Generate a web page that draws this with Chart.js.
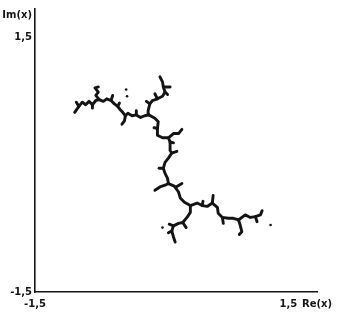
<!DOCTYPE html>
<html>
<head>
<meta charset="utf-8">
<script src="https://cdn.jsdelivr.net/npm/chart.js@4.4.1/dist/chart.umd.min.js"></script>
<style>
  html, body { margin: 0; padding: 0; background: #fff; }
  canvas { display: block; }
</style>
</head>
<body>
<canvas id="juliaChart" width="340" height="322"></canvas>
<script>
// Axis ticks and labels
const xTickValues = [-1.5, 1.5, 1.84];
const xTickLabels = ['-1,5', '1,5', 'Re(x)'];
const yTickValues = [-1.5, 1.5, 1.76];
const yTickLabels = ['-1,5', '1,5', 'Im(x)'];

// Branches of the dendrite, [Re, Im]
const armWest = [[-1.03,0.62],[-0.98,0.69],[-0.94,0.74],[-0.90,0.71],[-0.86,0.75],[-0.82,0.71],[-0.78,0.76],[-0.74,0.77],[-0.69,0.75],[-0.65,0.78],[-0.60,0.76],[-0.56,0.72],[-0.52,0.69],[-0.49,0.65],[-0.46,0.62],[-0.43,0.58],[-0.40,0.61],[-0.35,0.58],[-0.30,0.59],[-0.25,0.56],[-0.20,0.58],[-0.15,0.59]];
const armWestTwigs = [
    [[-0.74,0.77],[-0.78,0.82],[-0.75,0.86],[-0.79,0.91],[-0.75,0.92]],
    [[-0.60,0.76],[-0.58,0.82]],
    [[-0.43,0.58],[-0.44,0.52],[-0.47,0.48]],
    [[-0.98,0.69],[-1.01,0.74]],
    [[-0.82,0.71],[-0.82,0.67]],
    [[-0.30,0.59],[-0.30,0.64]],
    [[-0.52,0.69],[-0.50,0.73]]
];
const armNorth = [[-0.15,0.59],[-0.16,0.64],[-0.14,0.72],[-0.11,0.76],[-0.05,0.78],[0.01,0.81],[0.04,0.86],[0.02,0.92],[0.01,0.98],[-0.02,1.04]];
const armNorthTwigs = [
    [[0.02,0.92],[0.10,0.92]],
    [[-0.14,0.72],[-0.18,0.75]],
    [[-0.05,0.78],[-0.08,0.84]],
    [[0.04,0.86],[0.07,0.83]]
];
const stemMiddle = [[-0.15,0.59],[-0.08,0.55],[-0.04,0.51],[-0.05,0.43],[-0.05,0.35],[0.01,0.32],[0.08,0.32],[0.10,0.27],[0.10,0.17],[0.12,0.14],[0.08,0.08],[0.04,0.03],[0.02,-0.04],[0.04,-0.10],[0.07,-0.16],[0.08,-0.22]];
const stemMiddleTwigs = [
    [[0.08,0.32],[0.14,0.37],[0.20,0.37],[0.24,0.42]],
    [[0.12,0.14],[0.18,0.16]],
    [[0.02,-0.04],[-0.03,-0.04]],
    [[-0.05,0.43],[-0.09,0.44]],
    [[0.10,0.27],[0.14,0.26]]
];
const armSouthWest = [[0.08,-0.22],[0.04,-0.24],[-0.02,-0.26],[-0.08,-0.30]];
const stemLower = [[0.08,-0.22],[0.15,-0.25],[0.20,-0.32],[0.22,-0.39],[0.27,-0.44],[0.34,-0.48]];
const stemLowerTwigs = [
    [[0.17,-0.26],[0.24,-0.22]]
];
const armSouth = [[0.34,-0.48],[0.34,-0.56],[0.30,-0.62],[0.25,-0.68],[0.20,-0.69],[0.14,-0.72],[0.12,-0.78],[0.14,-0.85],[0.16,-0.91]];
const armSouthTwigs = [
    [[0.25,-0.68],[0.29,-0.74]],
    [[0.14,-0.72],[0.09,-0.70]],
    [[0.12,-0.78],[0.08,-0.80]]
];
const armEast = [[0.34,-0.48],[0.42,-0.45],[0.48,-0.48],[0.54,-0.49],[0.60,-0.45],[0.66,-0.50],[0.67,-0.57],[0.72,-0.62],[0.79,-0.63],[0.85,-0.63],[0.91,-0.65]];
const armEastTwigs = [
    [[0.60,-0.45],[0.61,-0.36]],
    [[0.72,-0.62],[0.73,-0.69]],
    [[0.48,-0.48],[0.49,-0.43]]
];
const tipSouthEast = [[0.91,-0.65],[0.93,-0.71],[0.95,-0.79],[0.92,-0.82]];
const tipEast = [[0.91,-0.65],[0.99,-0.59],[1.05,-0.62],[1.11,-0.61],[1.17,-0.59],[1.19,-0.54]];
const tipEastTwigs = [
    [[1.11,-0.61],[1.13,-0.67]]
];
const strayDots = [[-0.42,0.89],[-0.41,0.81],[1.29,-0.71],[0.01,-0.74]];

const branches = [
    armWest, ...armWestTwigs,
    armNorth, ...armNorthTwigs,
    stemMiddle, ...stemMiddleTwigs,
    armSouthWest,
    stemLower, ...stemLowerTwigs,
    armSouth, ...armSouthTwigs,
    armEast, ...armEastTwigs,
    tipSouthEast,
    tipEast, ...tipEastTwigs
];

const ink = '#141414';
const toPoints = arr => arr.map(p => ({ x: p[0], y: p[1] }));

const datasets = branches.map(b => ({
    data: toPoints(b),
    showLine: true,
    borderColor: ink,
    borderWidth: 2.9,
    borderJoinStyle: 'round',
    borderCapStyle: 'round',
    pointRadius: 0,
    tension: 0
}));
datasets.push({
    data: toPoints(strayDots),
    showLine: false,
    pointRadius: 1.3,
    pointBorderWidth: 0,
    backgroundColor: ink
});

const tickFont = { family: 'DejaVu Sans', size: 10, weight: 'bold' };

new Chart(document.getElementById('juliaChart'), {
    type: 'scatter',
    data: { datasets: datasets },
    options: {
        responsive: false,
        animation: false,
        layout: { autoPadding: false, padding: { top: 8, right: 23, left: 0, bottom: 0 } },
        plugins: { legend: { display: false }, tooltip: { enabled: false } },
        scales: {
            x: {
                type: 'linear',
                min: -1.5,
                max: 1.84,
                grid: { display: false, drawTicks: false },
                border: { display: true, color: ink, width: 1.6 },
                afterBuildTicks: scale => { scale.ticks = xTickValues.map(v => ({ value: v })); },
                afterFit: scale => { scale.height = 30; },
                ticks: {
                    autoSkip: false,
                    maxRotation: 0,
                    padding: 6,
                    color: ink,
                    font: tickFont,
                    callback: (value, i) => xTickLabels[i]
                }
            },
            y: {
                type: 'linear',
                min: -1.5,
                max: 1.84,
                grid: { display: false, drawTicks: false },
                border: { display: true, color: ink, width: 1.6 },
                afterBuildTicks: scale => { scale.ticks = yTickValues.map(v => ({ value: v })); },
                afterFit: scale => { scale.width = 35; },
                ticks: {
                    autoSkip: false,
                    padding: 3,
                    color: ink,
                    font: tickFont,
                    callback: (value, i) => yTickLabels[i]
                }
            }
        }
    }
});
</script>
</body>
</html>
